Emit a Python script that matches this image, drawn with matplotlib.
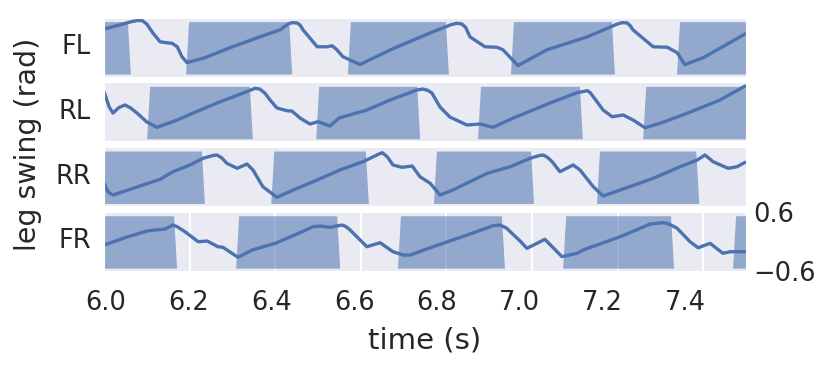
import numpy as np
import matplotlib.pyplot as plt
import seaborn as sns

sns.set_style("darkgrid")
plt.rcParams["font.family"] = ["DejaVu Sans"]

legs = ["FL", "RL", "RR", "FR"]

# leg swing angle (rad)
fl_t = [6.000, 6.037, 6.062, 6.077, 6.089, 6.100, 6.114, 6.131, 6.147, 6.159, 6.171, 6.182,
        6.194, 6.236, 6.294, 6.364, 6.411, 6.430, 6.439, 6.451, 6.458, 6.465, 6.498, 6.521,
        6.533, 6.544, 6.558, 6.598, 6.621, 6.675, 6.762, 6.810, 6.824, 6.836, 6.845, 6.855,
        6.890, 6.918, 6.932, 6.967, 7.035, 7.129, 7.196, 7.210, 7.222, 7.229, 7.236, 7.283,
        7.316, 7.339, 7.357, 7.400, 7.498]
fl_q = [0.371, 0.452, 0.515, 0.543, 0.543, 0.470, 0.290, 0.108, 0.088, 0.078, 0.007, -0.195,
        -0.317, -0.216, -0.013, 0.209, 0.351, 0.470, 0.499, 0.493, 0.450, 0.351, 0.007, 0.007,
        0.027, -0.054, -0.195, -0.357, -0.256, -0.033, 0.290, 0.455, 0.487, 0.472, 0.400, 0.209,
        0.007, -0.003, -0.054, -0.378, -0.054, 0.209, 0.460, 0.499, 0.493, 0.440, 0.351, 0.007,
        -0.003, -0.114, -0.357, -0.216, 0.270]

rl_t = [6.000, 6.012, 6.021, 6.035, 6.049, 6.062, 6.077, 6.100, 6.124, 6.171, 6.208, 6.264,
        6.325, 6.353, 6.364, 6.376, 6.388, 6.404, 6.428, 6.439, 6.458, 6.481, 6.500, 6.528,
        6.549, 6.614, 6.668, 6.731, 6.745, 6.756, 6.766, 6.785, 6.808, 6.848, 6.879, 6.909,
        6.956, 7.042, 7.105, 7.129, 7.136, 7.143, 7.166, 7.187, 7.213, 7.236, 7.264, 7.299,
        7.362, 7.439, 7.498]
rl_q = [0.410, 0.100, -0.025, 0.090, 0.139, 0.080, -0.025, -0.208, -0.316, -0.167, -0.025, 0.180,
        0.384, 0.480, 0.465, 0.380, 0.241, 0.078, 0.022, 0.016, -0.127, -0.249, -0.202, -0.290,
        -0.127, 0.037, 0.241, 0.445, 0.465, 0.440, 0.384, 0.098, -0.106, -0.269, -0.249, -0.316,
        -0.127, 0.180, 0.390, 0.431, 0.390, 0.308, 0.037, -0.100, -0.065, -0.167, -0.325, -0.235,
        -0.031, 0.241, 0.527]

rr_t = [6.000, 6.010, 6.021, 6.068, 6.131, 6.161, 6.201, 6.231, 6.255, 6.264, 6.275, 6.287,
        6.311, 6.334, 6.348, 6.371, 6.404, 6.442, 6.498, 6.551, 6.605, 6.640, 6.650, 6.662,
        6.675, 6.696, 6.720, 6.738, 6.762, 6.785, 6.815, 6.895, 6.949, 6.995, 7.018, 7.026,
        7.036, 7.047, 7.065, 7.096, 7.112, 7.143, 7.166, 7.206, 7.283, 7.346, 7.386, 7.404,
        7.423, 7.458, 7.479, 7.498]
rr_q = [-0.139, -0.320, -0.378, -0.241, -0.057, 0.098, 0.235, 0.371, 0.430, 0.439, 0.380, 0.269,
        0.167, 0.255, 0.133, -0.208, -0.425, -0.276, -0.071, 0.133, 0.302, 0.450, 0.486, 0.400,
        0.235, 0.188, 0.214, -0.004, -0.139, -0.378, -0.276, 0.065, 0.200, 0.371, 0.430, 0.439,
        0.390, 0.302, 0.098, 0.235, 0.133, -0.208, -0.398, -0.276, -0.037, 0.200, 0.337, 0.439,
        0.302, 0.167, 0.200, 0.290]

fr_t = [6.000, 6.056, 6.103, 6.143, 6.161, 6.172, 6.189, 6.220, 6.241, 6.266, 6.278, 6.313,
        6.346, 6.400, 6.463, 6.488, 6.505, 6.528, 6.556, 6.565, 6.575, 6.614, 6.645, 6.675,
        6.699, 6.715, 6.769, 6.848, 6.909, 6.925, 6.940, 6.953, 6.972, 6.988, 7.030, 7.070,
        7.105, 7.119, 7.206, 7.276, 7.306, 7.315, 7.327, 7.339, 7.369, 7.388, 7.416, 7.446,
        7.463, 7.498]
fr_q = [-0.078, 0.092, 0.214, 0.249, 0.331, 0.290, 0.194, -0.010, 0.004, -0.112, -0.125, -0.329,
        -0.180, -0.043, 0.194, 0.296, 0.310, 0.284, 0.331, 0.300, 0.229, -0.112, -0.031, -0.214,
        -0.282, -0.282, -0.112, 0.126, 0.316, 0.331, 0.270, 0.161, 0.004, -0.145, 0.039, -0.316,
        -0.247, -0.180, 0.092, 0.351, 0.378, 0.365, 0.320, 0.263, -0.010, -0.133, -0.043, -0.247,
        -0.214, -0.214]

# stance (foot contact) intervals in seconds
fl_stance = [(6.000, 6.058), (6.194, 6.435), (6.572, 6.801), (6.953, 7.189), (7.341, 7.500)]
rl_stance = [(6.103, 6.343), (6.498, 6.734), (6.876, 7.114), (7.262, 7.500)]
rr_stance = [(6.000, 6.231), (6.393, 6.614), (6.773, 7.000), (7.154, 7.386)]
fr_stance = [(6.000, 6.166), (6.311, 6.547), (6.689, 6.932), (7.075, 7.327), (7.472, 7.500)]

time_ticks = [6.0, 6.2, 6.4, 6.6, 6.8, 7.0, 7.2, 7.4]
swing_ticks = [-0.6, 0.6]

series = {
    "FL": (fl_t, fl_q, fl_stance),
    "RL": (rl_t, rl_q, rl_stance),
    "RR": (rr_t, rr_q, rr_stance),
    "FR": (fr_t, fr_q, fr_stance),
}

T0, T1 = 6.0, 7.5
LO, HI = -0.55, 0.52
RAMP = 0.007
blue = "#4c72b0"
ink = "#262626"


def stance_band(intervals):
    xs, ys = [T0], [LO]
    for a, b in intervals:
        if a <= T0:
            xs += [T0]; ys += [HI]
        else:
            xs += [a - RAMP / 2, a + RAMP / 2]; ys += [LO, HI]
        if b >= T1:
            xs += [T1]; ys += [HI]
        else:
            xs += [b - RAMP / 2, b + RAMP / 2]; ys += [HI, LO]
    xs.append(T1); ys.append(LO)
    return np.array(xs), np.array(ys)


fig = plt.figure(figsize=(8.31, 3.73), dpi=100)
left, width = 0.1252, 0.7726
height = 0.1576
bottoms = [0.7949, 0.6214, 0.4480, 0.2745]

# frameless axes that only carries the time tick labels
lab = fig.add_axes([left, bottoms[-1], width, bottoms[0] + height - bottoms[-1]], frameon=False)
lab.set_xlim(5.995, 7.548)
lab.set_xticks(time_ticks)
lab.set_xticklabels([f"{v:.1f}" for v in time_ticks])
lab.set_yticks([])
lab.grid(False)
lab.tick_params(axis="x", length=0, pad=14, labelsize=18.5, labelcolor=ink)

for leg, b in zip(legs, bottoms):
    ax = fig.add_axes([left, b, width, height])
    t, q, stance = series[leg]
    bx, by = stance_band(stance)
    ax.fill_between(bx, LO, by, color=blue, alpha=0.55, lw=0)
    ax.plot(t, q, color=blue, lw=2.4, solid_joinstyle="round")
    ax.set_xlim(T0, T1)
    ax.set_ylim(-0.6, 0.6)
    ax.set_ylabel(leg, rotation=0, ha="right", va="center", fontsize=18.5, color=ink)
    ax.yaxis.set_label_coords(-13 / 642, 0.5)
    if leg == "FR":
        ax.set_xticks(time_ticks[1:])
        ax.tick_params(axis="x", labelbottom=False, length=0)
        ax.grid(axis="x", color="white", lw=1.5)
        ax.grid(axis="y", visible=False)
        ax.yaxis.tick_right()
        ax.set_yticks(swing_ticks)
        ax.set_yticklabels(["\u22120.6", "0.6"])
        ax.tick_params(axis="y", length=0, pad=5, labelsize=18.5, labelcolor=ink)
    else:
        ax.set_xticks([])
        ax.set_yticks([])
        ax.grid(False)

fig.text(425 / 831, 1 - 341 / 373, "time (s)", ha="center", va="center", fontsize=21, color=ink)
fig.text(28 / 831, 1 - 144 / 373, "leg swing (rad)", rotation=90, ha="center", va="center",
         fontsize=20.5, color=ink)

fig.savefig("out.png", dpi=100)
